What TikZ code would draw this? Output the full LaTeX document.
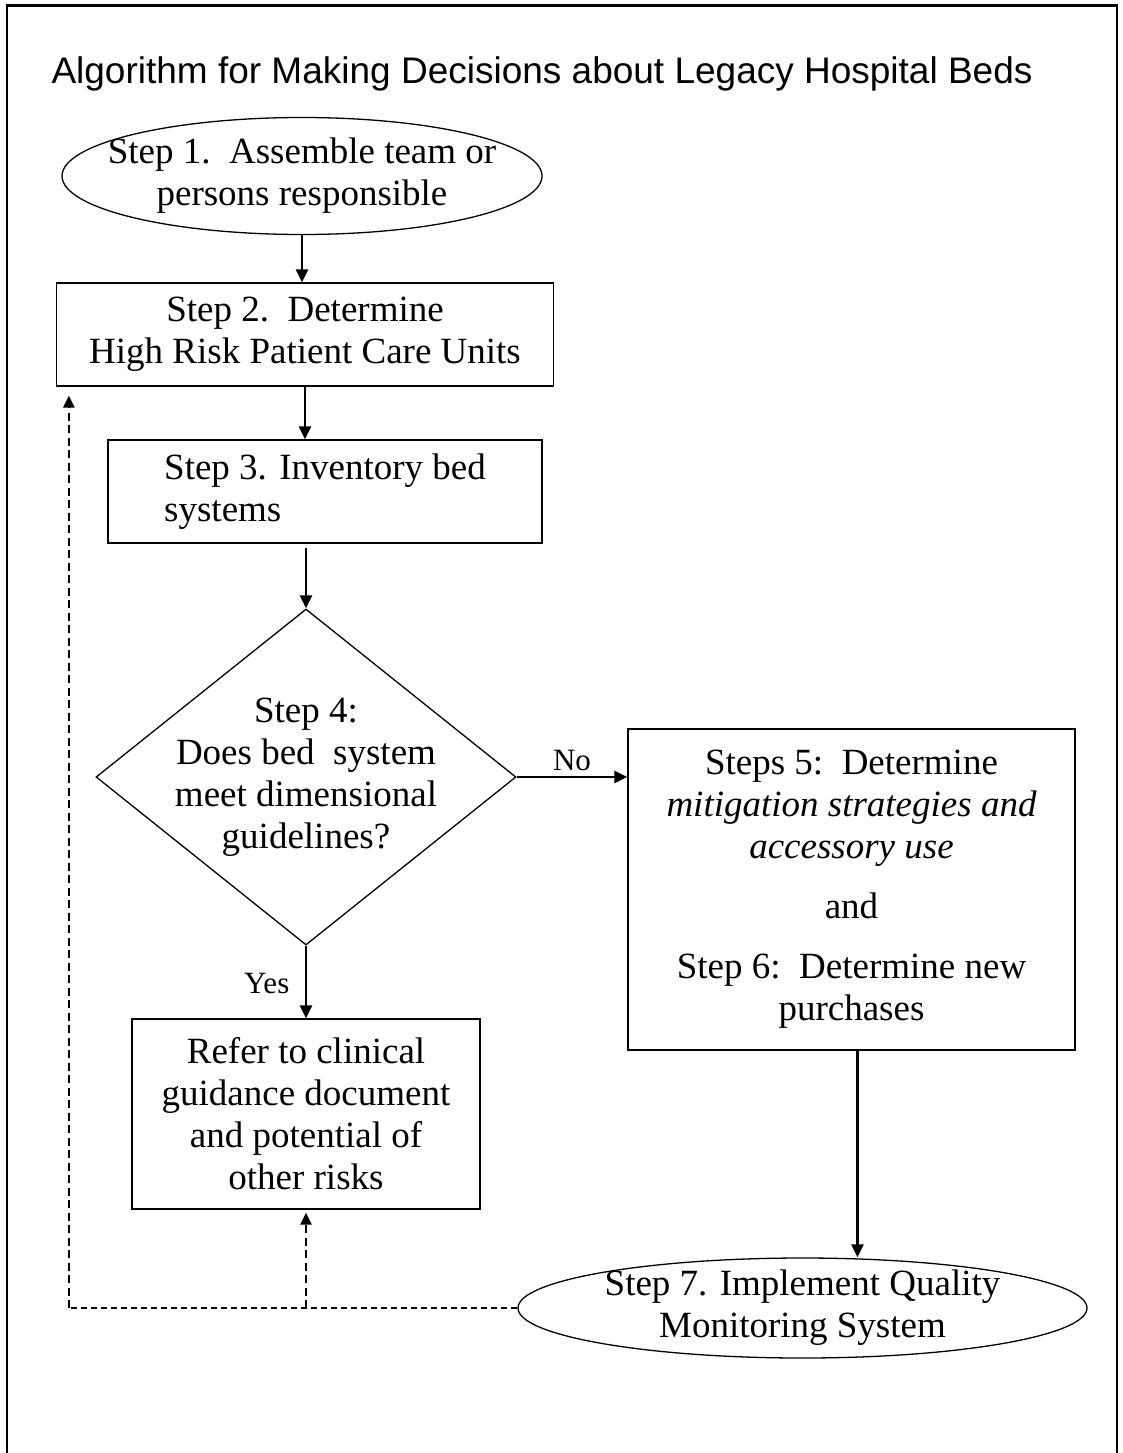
\documentclass[tikz,border=0pt]{standalone}
\usepackage{fontspec}
\setmainfont{Liberation Serif}
\newfontfamily\titlefont{Liberation Sans}
\usetikzlibrary{shapes.geometric,arrows.meta}
\begin{document}
\begin{tikzpicture}[x=1pt,y=-1pt,
  txt/.style={font=\fontsize{37}{42}\selectfont},
  lbl/.style={font=\fontsize{31}{36}\selectfont},
  shp/.style={draw, line width=1.3pt, inner sep=0pt, txt},
  rbox/.style={shp, rectangle, align=center},
  oval/.style={shp, ellipse},
  dia/.style={shp, diamond},
  arr/.style={line width=2.7pt, -{Triangle[length=13pt,width=12pt]}},
  darr/.style={line width=2.6pt, dash pattern=on 8pt off 4.5pt, -{Triangle[length=12pt,width=11pt]}},
  dline/.style={line width=2.6pt, dash pattern=on 6.5pt off 3.5pt}]
\useasboundingbox (0,0) rectangle (1122,1453);
\draw[line width=2.6pt] (7,1460) -- (7,5.5) -- (1117,5.5) -- (1117,1460);

\node[anchor=base west, font=\titlefont\fontsize{37}{42}\selectfont] (title) at (48,84)
  {Algorithm for Making Decisions about Legacy Hospital Beds};

\node[oval, minimum width=480pt, minimum height=117pt,
  label={[txt,align=center]center:Step 1.\ \ Assemble team or\\persons responsible}] (e1) at (302,176) {};

\node[rbox, minimum width=497pt, minimum height=103pt] (b2) at (305,334.5)
  {Step 2.\ \ Determine\\High Risk Patient Care Units};

\node[rbox, minimum width=434pt, minimum height=103pt, align=left] (b3) at (325,491.5)
  {Step 3. Inventory bed\\systems};

\node[dia, minimum width=420pt, minimum height=336pt,
  label={[txt,align=center]center:Step 4:\\Does bed\ \ system\\meet dimensional\\guidelines?}] (d4) at (306,777) {};

\node[rbox, minimum width=447pt, minimum height=321pt] (b56) at (851.5,889.5)
  {Steps 5:\ \ Determine\\{\itshape mitigation strategies and}\\{\itshape accessory use}\\[18pt]and\\[18pt]Step 6:\ \ Determine new\\purchases};

\node[rbox, minimum width=348pt, minimum height=190pt] (ref) at (306,1114)
  {Refer to clinical\\guidance document\\and potential of\\other risks};

\node[oval, minimum width=569pt, minimum height=100pt,
  label={[txt,align=center]center:Step 7. Implement Quality\\Monitoring System}] (e7) at (802.5,1308) {};

% solid connectors
\draw[arr] (e1.south) -- (e1.south |- b2.north);
\draw[arr] (b2.south) -- (b2.south |- b3.north);
\draw[arr] ([yshift=-4pt]d4.north |- b3.south) -- (d4.north);
\draw[arr] (d4.east) -- node[lbl, above=2pt] {No} (d4.east -| b56.west);
\draw[arr] (d4.south) -- node[lbl, left=12pt, pos=0.52] {Yes} (d4.south |- ref.north);
\coordinate (c7) at ([xshift=6pt]b56.south);
\draw[arr] (c7) -- (c7 |- e7.north);

% dashed feedback
\coordinate (lc) at ([xshift=13pt]b2.south west |- e7.west);
\coordinate (lt) at ([xshift=13pt,yshift=-9pt]b2.south west);
\coordinate (mc) at (ref.south |- e7.west);
\draw[dline] (e7.west) -- (lc);
\draw[darr] (lc) -- (lt);
\draw[darr] (mc) -- ([yshift=-3pt]ref.south);
\end{tikzpicture}
\end{document}
